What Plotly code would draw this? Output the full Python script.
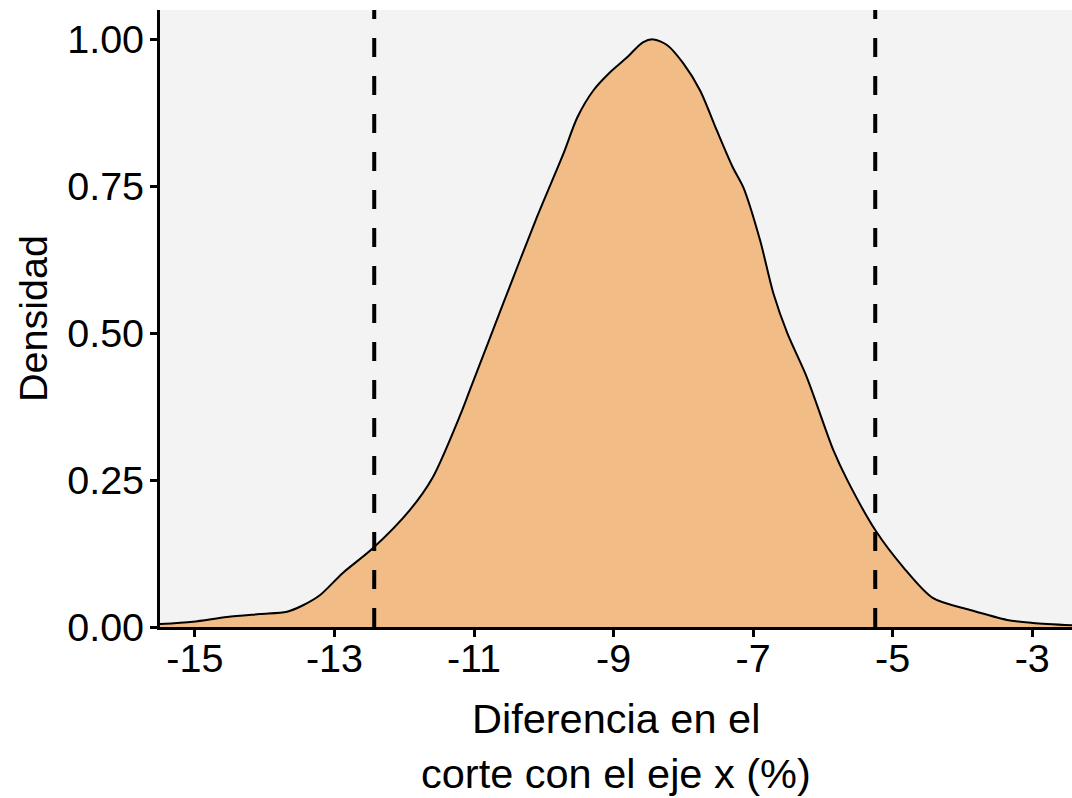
import plotly.graph_objects as go

# Density curve (scaled so max = 1)
dens_x = [-15.50, -15.03, -14.54, -14.07, -13.68, -13.45, -13.21, -12.88, -12.45,
          -11.92, -11.59, -11.20, -11.06, -10.58, -10.10, -9.72, -9.52, -9.29,
          -9.05, -8.81, -8.58, -8.43, -8.23, -8.00, -7.76, -7.52, -7.29, -7.14,
          -6.90, -6.71, -6.51, -6.23, -5.85, -5.65, -5.25, -4.85, -4.42, -3.89,
          -3.36, -2.99, -2.43]
dens_y = [0.005, 0.009, 0.017, 0.022, 0.026, 0.037, 0.054, 0.092, 0.134,
          0.199, 0.255, 0.36, 0.403, 0.551, 0.697, 0.805, 0.867, 0.913,
          0.944, 0.969, 0.995, 1.0, 0.99, 0.959, 0.913, 0.845, 0.782, 0.748,
          0.658, 0.568, 0.50, 0.425, 0.301, 0.25, 0.165, 0.102, 0.049, 0.029,
          0.012, 0.007, 0.003]

# Interval limits (dashed lines)
vlines = [-12.43, -5.25]

x_ticks = [-15, -13, -11, -9, -7, -5, -3]
x_tick_labels = ["-15", "-13", "-11", "-9", "-7", "-5", "-3"]
y_ticks = [0, 0.25, 0.5, 0.75, 1.0]
y_tick_labels = ["0.00", "0.25", "0.50", "0.75", "1.00"]

x_title_lines = ["Diferencia en el", "corte con el eje x (%)"]
y_title = "Densidad"

FONT = "Liberation Sans, Arial, sans-serif"
TICK_SIZE = 39.5
TITLE_SIZE = 41.5

fig = go.Figure()
fig.add_trace(go.Scatter(
    x=dens_x, y=dens_y, mode="lines",
    line=dict(color="black", width=2, shape="spline", smoothing=0.8),
    fill="tozeroy", fillcolor="#F2BC86", hoverinfo="skip", showlegend=False))

for v in vlines:
    fig.add_shape(type="line", xref="x", yref="paper", x0=v, x1=v, y0=0, y1=1,
                  line=dict(color="black", width=4, dash="19px,19px"), layer="above")

for i, t in enumerate(x_title_lines):
    fig.add_annotation(text=t, xref="paper", yref="paper", x=0.5, y=0,
                       xanchor="center", yanchor="middle", yshift=-91 - 55 * i,
                       showarrow=False, font=dict(family=FONT, size=TITLE_SIZE, color="black"))

fig.update_layout(
    width=1072, height=798,
    margin=dict(l=160, r=0, t=10, b=171),
    paper_bgcolor="white", plot_bgcolor="#F3F3F3",
    font=dict(family=FONT, size=TICK_SIZE, color="black"),
    xaxis=dict(range=[-15.5, -2.43], tickvals=x_ticks, ticktext=x_tick_labels,
               showgrid=False, zeroline=False, showline=True, linecolor="black", linewidth=3,
               ticks="outside", ticklen=7, tickwidth=3, tickcolor="black",
               ticklabelstandoff=-12,
               tickfont=dict(family=FONT, size=TICK_SIZE, color="black")),
    yaxis=dict(range=[0, 1.05], tickvals=y_ticks, ticktext=y_tick_labels,
               showgrid=False, zeroline=False, showline=True, linecolor="black", linewidth=3,
               ticks="outside", ticklen=7, tickwidth=3, tickcolor="black",
               ticklabelstandoff=-2,
               tickfont=dict(family=FONT, size=TICK_SIZE, color="black"),
               title=dict(text=y_title, font=dict(family=FONT, size=TICK_SIZE, color="black"), standoff=8)),
)

fig.write_html("out.html")
